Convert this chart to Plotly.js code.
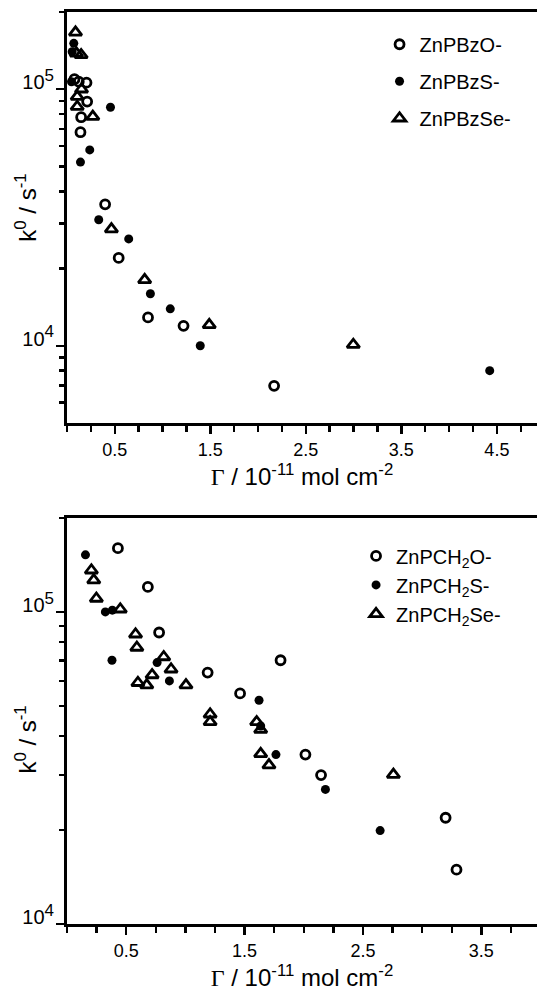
<!DOCTYPE html>
<html>
<head>
<meta charset="utf-8">
<script src="https://cdn.plot.ly/plotly-3.0.1.min.js"></script>
<style>html,body{margin:0;padding:0;background:#fff;}#chart{width:537px;height:992px;}</style>
</head>
<body>
<div id="chart"></div>
<script>
// ---- Top panel data (ZnPBz series) ----
const bzO_x = [0.078, 0.123, 0.204, 0.211, 0.148, 0.141, 0.399, 0.541, 0.848, 1.220, 2.168];
const bzO_y = [109400, 107000, 106100, 89500, 77800, 68000, 35600, 22000, 12900, 11960, 6980];
const bzS_x = [0.071, 0.054, 0.047, 0.455, 0.238, 0.141, 0.332, 0.646, 0.873, 1.081, 1.395, 4.425];
const bzS_y = [151000, 140000, 107000, 85100, 58000, 52000, 31000, 26100, 15950, 13930, 10000, 8000];
const bzSe_x = [0.089, 0.099, 0.148, 0.152, 0.107, 0.107, 0.270, 0.465, 0.813, 1.489, 2.997];
const bzSe_y = [166700, 138000, 136000, 100000, 93600, 85500, 78200, 28500, 18070, 12070, 10100];

// ---- Bottom panel data (ZnPCH2 series) ----
const chO_x = [0.430, 0.683, 0.778, 1.188, 1.462, 1.804, 2.014, 2.146, 3.198, 3.290];
const chO_y = [160100, 120300, 85900, 63900, 54800, 70000, 34900, 30000, 21900, 14930];
const chS_x = [0.156, 0.324, 0.383, 0.380, 0.761, 0.865, 1.622, 1.636, 1.765, 2.183, 2.645];
const chS_y = [152400, 100000, 101300, 70000, 68800, 60100, 52100, 43100, 34900, 27000, 19920];
const chSe_x = [0.206, 0.226, 0.248, 0.450, 0.579, 0.590, 0.817, 0.879, 0.719, 0.599, 0.674, 1.005, 1.209, 1.209, 1.602, 1.636, 1.636, 1.706, 2.757];
const chSe_y = [136000, 126400, 110400, 102000, 84800, 76900, 71700, 65500, 62800, 59300, 58300, 58300, 47000, 44400, 44400, 42000, 35100, 32300, 30100];

// ---- Tick labels ----
const xTickValsTop = [0.5, 1.5, 2.5, 3.5, 4.5];
const xTickTextTop = ['0.5', '1.5', '2.5', '3.5', '4.5'];
const xTickValsBot = [0.5, 1.5, 2.5, 3.5];
const xTickTextBot = ['0.5', '1.5', '2.5', '3.5'];
const yTickVals = [1e4, 1e5];
const yTickText = ['10<sup><span style="font-size:17px">4</span></sup>', '10<sup><span style="font-size:17px">5</span></sup>'];
const yMinorTop = [6000, 7000, 8000, 9000, 20000, 30000, 40000, 50000, 60000, 70000, 80000, 90000, 200000];
const yMinorBot = [20000, 30000, 40000, 50000, 60000, 70000, 80000, 90000, 200000];

const names = {
  bzO: 'ZnPBzO-', bzS: 'ZnPBzS-', bzSe: 'ZnPBzSe-',
  chO: 'ZnPCH<sub>2</sub>O-', chS: 'ZnPCH<sub>2</sub>S-', chSe: 'ZnPCH<sub>2</sub>Se-'
};

const openC = {symbol: 'circle-open', size: 9, color: '#000', line: {width: 2.8, color: '#000'}};
const fillC = {symbol: 'circle', size: 9, color: '#000', line: {width: 0}};
const triO = {symbol: 'triangle-up-open', size: 11, color: '#000', line: {width: 2.8, color: '#000'}};

function tr(x, y, name, marker, ax, leg, grp) {
  return {x: x, y: y, name: name, type: 'scatter', mode: 'markers', marker: marker,
    xaxis: ax === 1 ? 'x' : 'x2', yaxis: ax === 1 ? 'y' : 'y2',
    legend: leg, legendgroup: grp, showlegend: true, cliponaxis: false};
}

const data = [
  tr(bzO_x, bzO_y, names.bzO, openC, 1, 'legend', 'a'),
  tr(bzS_x, bzS_y, names.bzS, fillC, 1, 'legend', 'b'),
  tr(bzSe_x, bzSe_y, names.bzSe, triO, 1, 'legend', 'c'),
  tr(chO_x, chO_y, names.chO, openC, 2, 'legend2', 'd'),
  tr(chS_x, chS_y, names.chS, fillC, 2, 'legend2', 'e'),
  tr(chSe_x, chSe_y, names.chSe, triO, 2, 'legend2', 'f')
];

const tickFont = {family: 'Liberation Sans, Arial, sans-serif', size: 18, color: '#000'};
const titleFont = {family: 'Liberation Sans, Arial, sans-serif', size: 24, color: '#000'};
const xTitle = '<span style="font-family:Liberation Serif">Γ</span> / 10<sup>-11</sup> mol cm<sup>-2</sup>';

function xax(range, tickvals, ticktext, anchor, standoff) {
  return {range: range, anchor: anchor, showgrid: false, zeroline: false,
    showline: true, linewidth: 3, linecolor: '#000', mirror: true,
    ticks: 'outside', ticklen: 8, tickwidth: 2.5, tickcolor: '#000',
    tickmode: 'array', tickvals: tickvals, ticktext: ticktext, tickfont: tickFont,
    minor: {ticks: 'outside', dtick: 0.25, tick0: 0, ticklen: 6, tickwidth: 2.5, tickcolor: '#000', showgrid: false},
    title: {text: xTitle, font: titleFont, standoff: standoff}};
}
function yax(range, minorVals, domain, anchor) {
  return {type: 'log', range: range, domain: domain, anchor: anchor, showgrid: false, zeroline: false,
    showline: true, linewidth: 3, linecolor: '#000', mirror: false,
    ticks: 'outside', ticklen: 8, tickwidth: 2.5, tickcolor: '#000',
    tickmode: 'array', tickvals: yTickVals, ticktext: yTickText, ticklabelshift: -7, ticklabelstandoff: -2,
    tickfont: {family: tickFont.family, size: 20, color: '#000'},
    minor: {ticks: 'outside', tickmode: 'array', tickvals: minorVals, ticklen: 5, tickwidth: 2.5, tickcolor: '#000', showgrid: false}};
}

const legFont = {family: 'Liberation Sans, Arial, sans-serif', size: 20, color: '#000'};

const layout = {
  width: 537, height: 992,
  margin: {l: 67, r: 0, t: 12, b: 68},
  paper_bgcolor: '#fff', plot_bgcolor: '#fff',
  showlegend: true,
  xaxis: xax([0, 4.92], xTickValsTop, xTickTextTop, 'y', 0),
  yaxis: yax([Math.log10(5000), Math.log10(200000)], yMinorTop, [0.5493, 1], 'x'),
  xaxis2: xax([0, 3.97], xTickValsBot, xTickTextBot, 'y2', 2),
  yaxis2: yax([4, Math.log10(200000)], yMinorBot, [0, 0.4452], 'x2'),
  legend: {x: 0.665, y: 0.986, xanchor: 'left', yanchor: 'top', font: legFont,
    bgcolor: 'rgba(0,0,0,0)', traceorder: 'grouped', tracegroupgap: 8},
  legend2: {x: 0.615, y: 0.425, xanchor: 'left', yanchor: 'top', font: legFont,
    bgcolor: 'rgba(0,0,0,0)', traceorder: 'grouped', tracegroupgap: 0},
  annotations: [
    {text: 'k<sup>0</sup> / s<sup>-1</sup>', xref: 'paper', yref: 'paper', x: -0.088, y: 0.785,
      xanchor: 'center', yanchor: 'middle', textangle: -90, showarrow: false, font: titleFont},
    {text: 'k<sup>0</sup> / s<sup>-1</sup>', xref: 'paper', yref: 'paper', x: -0.088, y: 0.2018,
      xanchor: 'center', yanchor: 'middle', textangle: -90, showarrow: false, font: titleFont}
  ]
};

Plotly.newPlot('chart', data, layout, {staticPlot: true, displayModeBar: false});
</script>
</body>
</html>
